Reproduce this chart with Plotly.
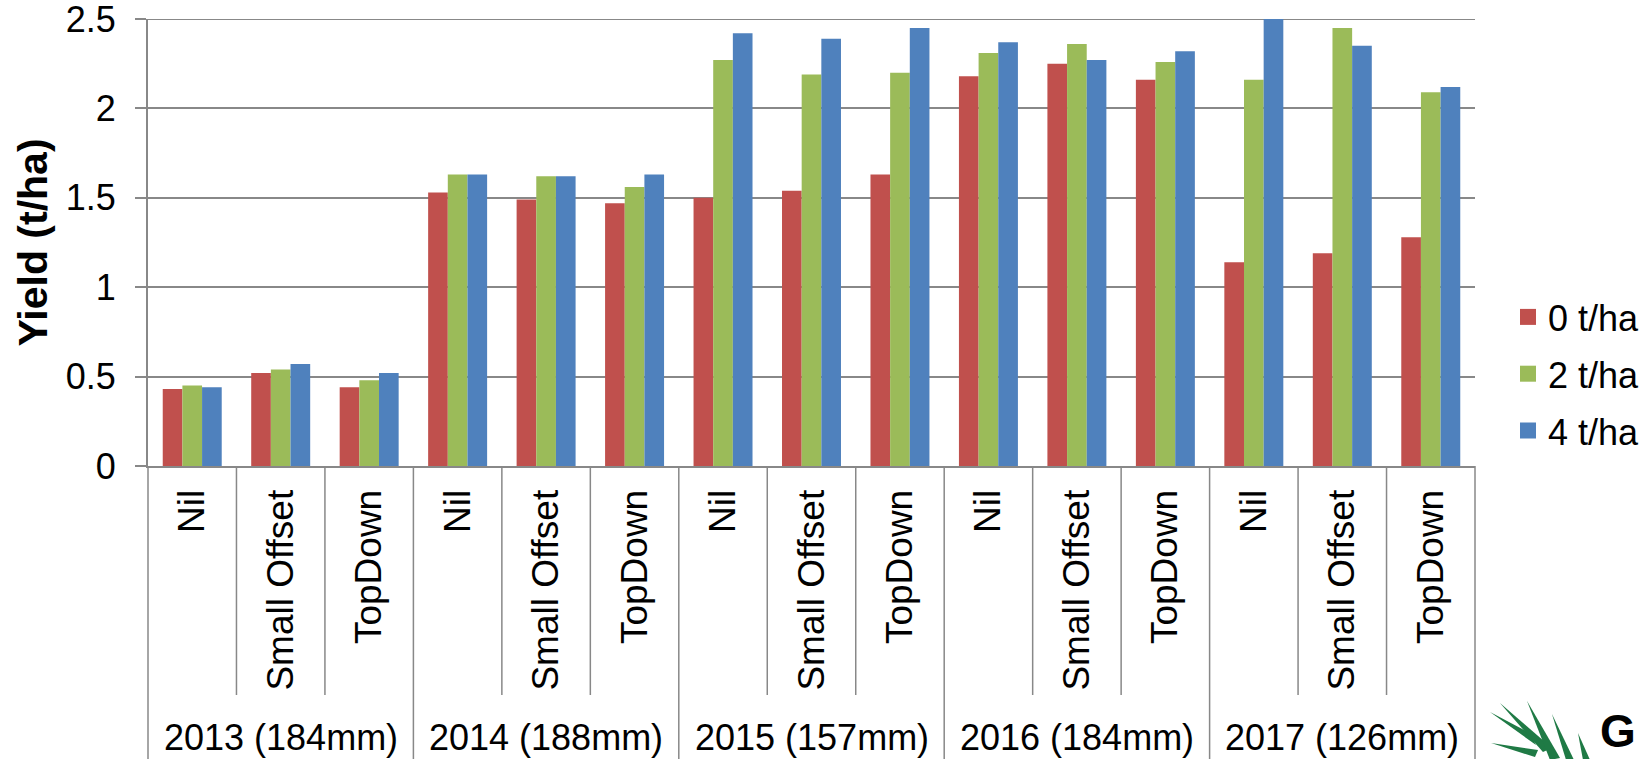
import plotly.graph_objects as go

# Seasons (growing-season rainfall) and treatments
years = ["2013 (184mm)", "2014 (188mm)", "2015 (157mm)", "2016 (184mm)", "2017 (126mm)"]
treatments = ["Nil", "Small Offset", "TopDown"]

# Yield (t/ha) per season x treatment, one list per rate
rate_names = ["0 t/ha", "2 t/ha", "4 t/ha"]
yield_0 = [0.43, 0.52, 0.44, 1.53, 1.49, 1.47, 1.50, 1.54, 1.63, 2.18, 2.25, 2.16, 1.14, 1.19, 1.28]
yield_2 = [0.45, 0.54, 0.48, 1.63, 1.62, 1.56, 2.27, 2.19, 2.20, 2.31, 2.36, 2.26, 2.16, 2.45, 2.09]
yield_4 = [0.44, 0.57, 0.52, 1.63, 1.62, 1.63, 2.42, 2.39, 2.45, 2.37, 2.27, 2.32, 2.50, 2.35, 2.12]

# y-axis tick values
y_ticks = [0, 0.5, 1, 1.5, 2, 2.5]

colors = ["#C0504D", "#9BBB59", "#4F81BD"]
FONT = "Liberation Sans, Arial, sans-serif"
GRID = "#888888"

W, H = 1652, 759
L, R, T, B = 148, 177, 19, 293
PW, PH = W - L - R, H - T - B


def to_paper(px, py):
    """Pixel position on the page -> paper coordinates."""
    return (px - L) / PW, (H - B - py) / PH


cats = [f"{y}|{t}" for y in years for t in treatments]
n = len(cats)

fig = go.Figure()
for name, vals, col in zip(rate_names, [yield_0, yield_2, yield_4], colors):
    fig.add_trace(go.Bar(x=cats, y=vals, name=name, marker_color=col,
                         marker_line_width=0, showlegend=False))
    # legend entry with a larger square swatch
    fig.add_trace(go.Scatter(x=[None], y=[None], mode="markers", name=name,
                             legendgroup=name,
                             marker=dict(symbol="square", size=19, color=col)))

shapes = []
# top gridline at the end of the value range
shapes.append(dict(type="line", xref="paper", yref="y", x0=0, x1=1,
                   y0=y_ticks[-1], y1=y_ticks[-1], layer="below",
                   line=dict(color=GRID, width=2)))
# separators below the category axis: short between treatments, long between seasons
for i in range(n + 1):
    x = i / n
    y_end = to_paper(0, 695)[1] if i % 3 else to_paper(0, H + 5)[1]
    shapes.append(dict(type="line", xref="paper", yref="paper", x0=x, x1=x,
                       y0=0, y1=y_end, line=dict(color=GRID, width=1.5)))

# leaf emblem in the corner
leaves = [
    [(1490, 712), (1530, 733), (1536, 745)],
    [(1500, 703), (1543, 752), (1552, 748)],
    [(1527, 701), (1550, 760), (1560, 758)],
    [(1552, 714), (1566, 760), (1574, 760)],
    [(1578, 733), (1583, 760), (1590, 760)],
    [(1491, 743), (1535, 757), (1538, 750)],
]
for tip, b1, b2 in leaves:
    pts = [to_paper(*p) for p in (tip, b1, b2)]
    path = "M {:.4f} {:.4f} L {:.4f} {:.4f} L {:.4f} {:.4f} Z".format(
        pts[0][0], pts[0][1], pts[1][0], pts[1][1], pts[2][0], pts[2][1])
    shapes.append(dict(type="path", xref="paper", yref="paper", path=path,
                       fillcolor="#1F7A45", line=dict(width=0)))

annotations = []
# season labels under each block of treatments
for y in years:
    annotations.append(dict(x=f"{y}|{treatments[1]}", xref="x",
                            y=to_paper(0, 737)[1], yref="paper",
                            text=y, showarrow=False, yanchor="middle",
                            font=dict(family=FONT, size=36, color="black")))
gx, gy = to_paper(1598, 759)
annotations.append(dict(x=gx, y=gy, xref="paper", yref="paper", text="<b>G</b>",
                        showarrow=False, xanchor="left", yanchor="bottom",
                        font=dict(family=FONT, size=46, color="black")))

fig.update_layout(
    width=W, height=H,
    margin=dict(l=L, r=R, t=T, b=B, autoexpand=False),
    plot_bgcolor="white", paper_bgcolor="white",
    barmode="group", bargap=1 / 3, bargroupgap=0,
    font=dict(family=FONT, size=36, color="black"),
    shapes=shapes, annotations=annotations,
    legend=dict(x=to_paper(1508, 0)[0], y=to_paper(0, 287)[1],
                xanchor="left", yanchor="top",
                font=dict(family=FONT, size=36, color="black"),
                tracegroupgap=7, bgcolor="rgba(0,0,0,0)"),
    xaxis=dict(
        type="category", tickmode="array", tickvals=cats,
        ticktext=[t for _ in years for t in treatments],
        tickangle=-90, ticks="", showgrid=False, showline=True,
        linecolor=GRID, linewidth=2, ticklabelstandoff=7,
        tickfont=dict(family=FONT, size=37, color="black"),
        range=[-0.5, n - 0.5], automargin=False,
    ),
    yaxis=dict(
        range=[0, 2.5], tickmode="array", tickvals=y_ticks,
        ticktext=[f"{v:g}" for v in y_ticks], ticklabeloverflow="allow",
        showgrid=True, gridcolor=GRID,
        gridwidth=2, showline=True, linecolor=GRID, linewidth=2,
        ticks="outside", ticklen=11, tickwidth=2, tickcolor=GRID,
        ticklabelstandoff=12, zeroline=False, automargin=False,
        tickfont=dict(family=FONT, size=36, color="black"),
        title=dict(text="Yield (t/ha)", standoff=5,
                   font=dict(family=FONT, size=41, color="black", weight="bold")),
    ),
)

fig.write_html("out.html")
